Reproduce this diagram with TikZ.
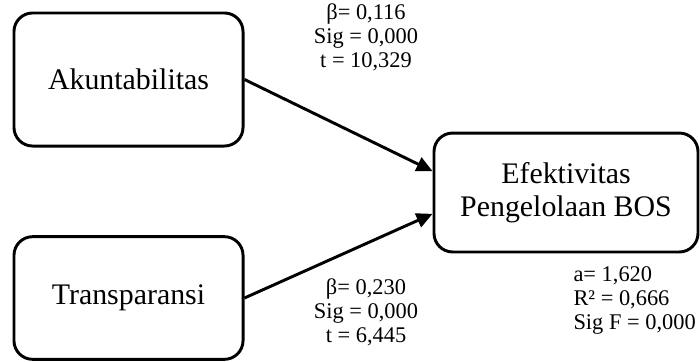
\documentclass[tikz,border=0pt]{standalone}
\usepackage{fontspec}
\setmainfont{Liberation Serif}
\usetikzlibrary{arrows.meta}

\begin{document}
\begin{tikzpicture}[x=0.375pt, y=-0.375pt]
        \tikzstyle{box} = [rectangle, rounded corners=7pt, line width=1.1pt, draw=black, text centered, font=\fontsize{11.2}{12.5}\selectfont]
        \tikzstyle{stat} = [align=center, font=\fontsize{8.4}{9}\selectfont, inner sep=0pt]
        \tikzstyle{path} = [line width=1.1pt, -{Triangle[length=6pt, width=5.5pt]}]
        \useasboundingbox (0,0) rectangle (700,361);
        \node (akun) [box, minimum width=85.9pt, minimum height=49.9pt] at (128.5,79.5) {Akuntabilitas};
        \node (trans) [box, minimum width=85.9pt, minimum height=46pt] at (128.5,298) {Transparansi};
        \node (efek) [box, minimum width=99pt, minimum height=44.6pt, align=center] at (566,192.5) {Efektivitas\\Pengelolaan BOS};
        \coordinate (inA) at ([yshift=8pt]efek.west);
        \coordinate (inT) at ([yshift=-8pt]efek.west);
        \draw [path] (akun.east) -- (inA);
        \draw [path] (trans.east) -- (inT);
        \node (statA) [stat] at (366,37) {β= 0,116\\Sig = 0,000\\t = 10,329};
        \node (statT) [stat] at (366,312) {β= 0,230\\Sig = 0,000\\t = 6,445};
        \node (statE) [stat, align=left, anchor=west] at (573,300) {a= 1,620\\R² = 0,666\\Sig F = 0,000};
    \end{tikzpicture}
\end{document}
